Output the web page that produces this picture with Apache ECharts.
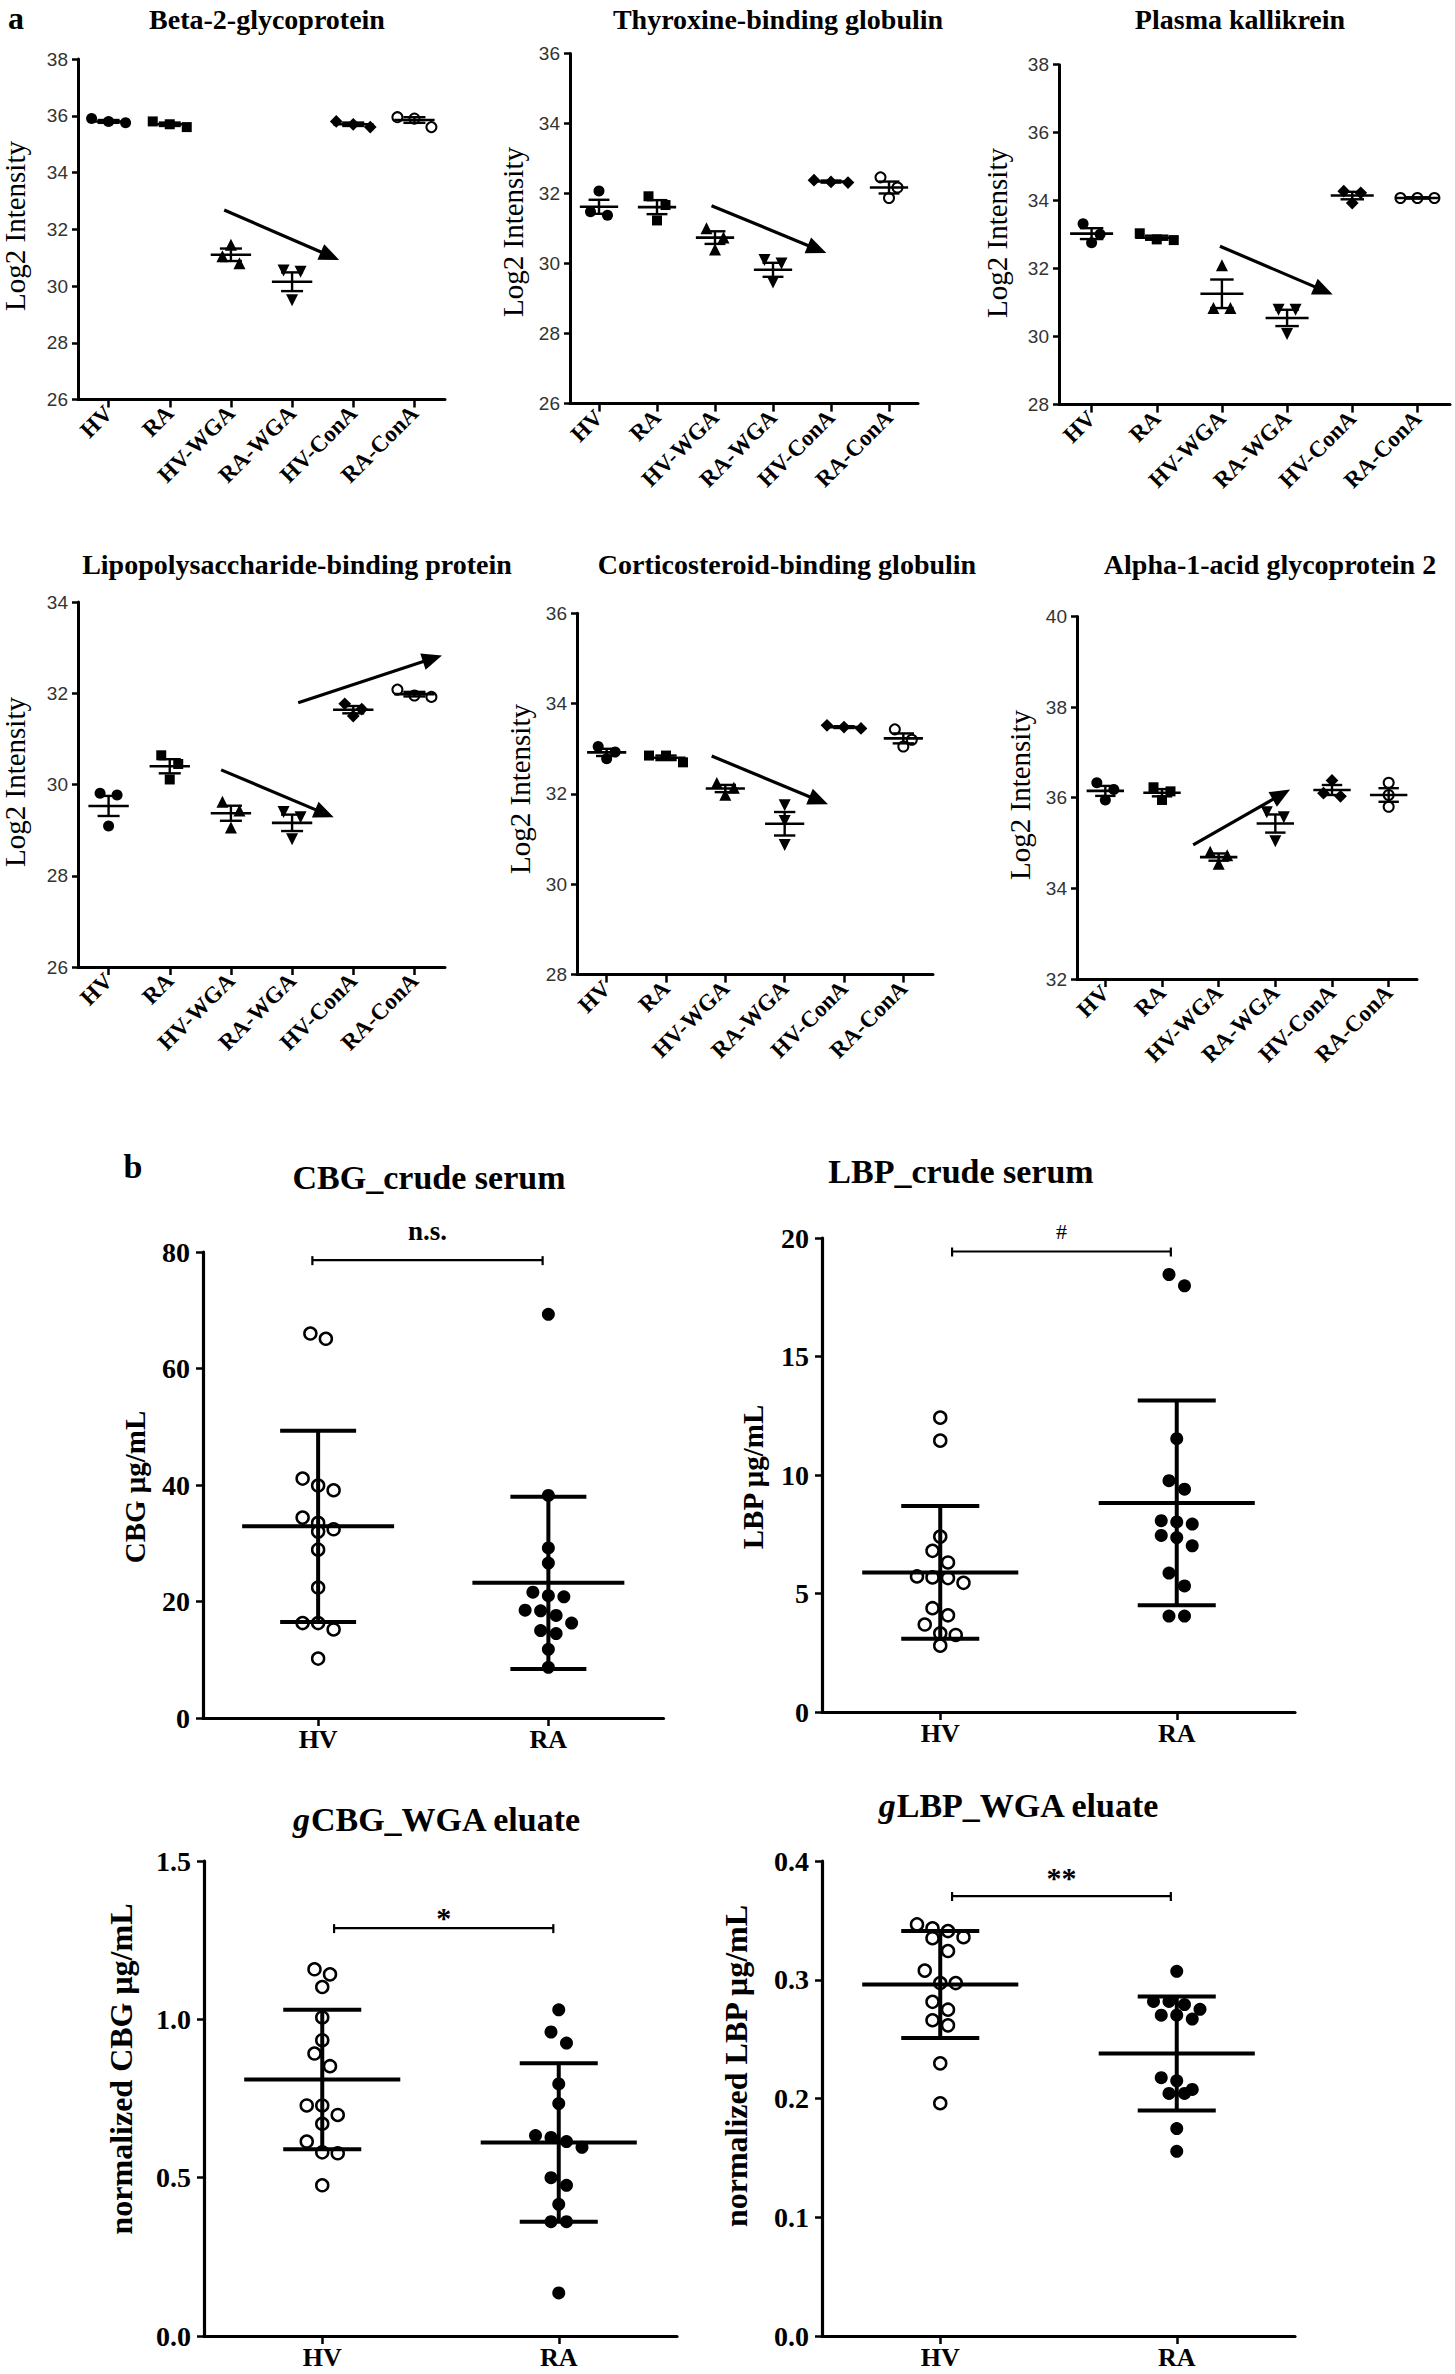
<!DOCTYPE html>
<html><head><meta charset="utf-8">
<script src="https://cdn.jsdelivr.net/npm/echarts@6/dist/echarts.min.js"></script>
<style>html,body{margin:0;padding:0;background:#fff}#c{width:1455px;height:2374px}</style>
</head><body><div id="c"></div>
<script>
// ---------------- DATA ----------------
const groupsA = ['HV', 'RA', 'HV-WGA', 'RA-WGA', 'HV-ConA', 'RA-ConA'];
const groupsB = ['HV', 'RA'];
const titlesA = ['Beta-2-glycoprotein', 'Thyroxine-binding globulin', 'Plasma kallikrein',
  'Lipopolysaccharide-binding protein', 'Corticosteroid-binding globulin', 'Alpha-1-acid glycoprotein 2'];
const yNameA = 'Log2 Intensity';

// y axis ticks: [min, max, step]
const beta2Y = [26, 38, 2];
const beta2Points = [[35.9, 35.75, 35.8], [35.8, 35.6, 35.7], [31.45, 31.05, 30.8], [30.55, 30.5, 29.5], [35.8, 35.6, 35.7], [35.95, 35.6, 35.9]];
const beta2Mean = [35.8, 35.7, 31.1, 30.15, 35.7, 35.85];
const beta2Sem = [0.05, 0.06, 0.22, 0.33, 0.06, 0.1];
const beta2Arrows = [[1.89, 32.68, 3.77, 30.92]];

const tbgY = [26, 36, 2];
const tbgPoints = [[32.07, 31.38, 31.48], [31.92, 31.23, 31.67], [31.01, 30.4, 30.74], [30.1, 30.0, 29.46], [32.38, 32.31, 32.33], [32.46, 31.87, 32.17]];
const tbgMean = [31.62, 31.61, 30.74, 29.82, 32.34, 32.17];
const tbgSem = [0.2, 0.2, 0.18, 0.2, 0.03, 0.17];
const tbgArrows = [[1.94, 31.65, 3.92, 30.3]];

const pkY = [28, 38, 2];
const pkPoints = [[33.32, 32.76, 33.01], [33.04, 32.86, 32.84], [32.1, 30.84, 30.84], [30.79, 30.79, 30.08], [34.28, 34.23, 33.93], [34.08, 34.08, 34.08]];
const pkMean = [33.03, 32.91, 31.26, 30.55, 34.15, 34.08];
const pkSem = [0.16, 0.06, 0.42, 0.24, 0.11, 0.02];
const pkArrows = [[1.97, 32.66, 3.7, 31.24]];

const lbpY = [26, 34, 2];
const lbpPoints = [[29.81, 29.77, 29.09], [30.64, 30.45, 30.11], [29.62, 29.43, 29.06], [29.4, 29.28, 28.8], [31.77, 31.65, 31.5], [32.08, 31.95, 31.92]];
const lbpMean = [29.53, 30.4, 29.37, 29.16, 31.64, 31.98];
const lbpSem = [0.22, 0.155, 0.165, 0.18, 0.08, 0.05];
const lbpArrows = [[1.84, 30.32, 3.68, 29.28], [3.1, 31.79, 5.45, 32.83]];

const cbgY = [28, 36, 2];
const cbgPoints = [[33.05, 32.93, 32.78], [32.85, 32.85, 32.7], [32.24, 32.14, 31.98], [31.75, 31.4, 30.87], [33.52, 33.48, 33.45], [33.43, 33.2, 33.05]];
const cbgMean = [32.92, 32.8, 32.12, 31.34, 33.48, 33.23];
const cbgSem = [0.08, 0.05, 0.08, 0.26, 0.02, 0.11];
const cbgArrows = [[1.77, 32.84, 3.73, 31.77]];

const agpY = [32, 40, 2];
const agpPoints = [[36.33, 36.18, 35.95], [36.23, 36.14, 35.95], [34.81, 34.73, 34.54], [35.68, 35.57, 35.04], [36.38, 36.1, 36.03], [36.33, 36.06, 35.8]];
const agpMean = [36.15, 36.11, 34.69, 35.43, 36.17, 36.06];
const agpSem = [0.11, 0.08, 0.08, 0.2, 0.11, 0.15];
const agpArrows = [[1.55, 34.96, 3.26, 36.18]];

// Panel b
const cbgCrudeY = [0, 80, 20];
const cbgCrudeHV = [65.1, 66.0, 39.9, 39.1, 41.1, 33.5, 34.4, 32.0, 32.4, 28.9, 22.4, 16.3, 16.3, 15.2, 10.2];
const cbgCrudeRA = [69.3, 38.2, 29.2, 26.6, 21.6, 20.8, 21.0, 18.4, 18.5, 16.3, 17.6, 15.0, 14.5, 11.8, 8.7];
const cbgCrudeMean = [32.9, 23.2];
const cbgCrudeSD = [16.4, 14.8];
const cbgCrudeSig = { text: 'n.s.', from: -0.025, to: 0.975, y: 78.6 };

const lbpCrudeY = [0, 20, 5];
const lbpCrudeHV = [12.42, 11.45, 7.4, 6.8, 6.31, 5.72, 5.65, 5.45, 5.68, 4.38, 4.08, 3.69, 3.32, 3.25, 2.8];
const lbpCrudeRA = [17.98, 18.46, 11.53, 9.4, 9.76, 8.02, 7.93, 8.07, 7.45, 7.36, 7.01, 5.86, 5.32, 4.05, 4.05];
const lbpCrudeMean = [5.89, 8.82];
const lbpCrudeSD = [2.8, 4.32];
const lbpCrudeSig = { text: '#', from: 0.05, to: 0.975, y: 19.43 };

const gcbgY = [0, 1.5, 0.5];
const gcbgHV = [1.142, 1.158, 1.102, 1.006, 0.934, 0.892, 0.852, 0.728, 0.728, 0.698, 0.670, 0.614, 0.580, 0.577, 0.476];
const gcbgRA = [1.03, 0.96, 0.925, 0.796, 0.734, 0.627, 0.633, 0.614, 0.596, 0.5, 0.476, 0.416, 0.361, 0.361, 0.136];
const gcbgMean = [0.81, 0.611];
const gcbgSD = [0.22, 0.25];
const gcbgSig = { text: '*', from: 0.05, to: 0.977, y: 1.288 };

const glbpY = [0, 0.4, 0.1];
const glbpHV = [0.3466, 0.341, 0.3433, 0.335, 0.3358, 0.3242, 0.3077, 0.2972, 0.2972, 0.2814, 0.2748, 0.2659, 0.2616, 0.2296, 0.196];
const glbpRA = [0.3071, 0.2817, 0.2791, 0.2817, 0.2702, 0.2702, 0.2751, 0.2669, 0.2175, 0.2149, 0.2076, 0.2043, 0.2043, 0.1747, 0.1555];
const glbpMean = [0.296, 0.238];
const glbpSD = [0.045, 0.048];
const glbpSig = { text: '**', from: 0.05, to: 0.975, y: 0.3705 };

const titlesB = ['CBG_crude serum', 'LBP_crude serum', 'CBG_WGA eluate', 'LBP_WGA eluate'];
const yNamesB = ['CBG μg/mL', 'LBP μg/mL', 'normalized CBG μg/mL', 'normalized LBP μg/mL'];

// ---------------- LAYOUT / STYLE ----------------
const SERIF = '"Liberation Serif","Times New Roman",serif';
const SANS = '"Liberation Sans",Arial,sans-serif';

const markA = [
  { symbol: 'circle', size: 11, fill: '#000', bw: 0 },
  { symbol: 'rect', size: 10, fill: '#000', bw: 0 },
  { symbol: 'triangle', size: 12, fill: '#000', bw: 0, rot: 0 },
  { symbol: 'triangle', size: 12, fill: '#000', bw: 0, rot: 180 },
  { symbol: 'rect', size: 9, fill: '#000', bw: 0, rot: 45 },
  { symbol: 'circle', size: 10, fill: '#fff', bw: 2 }
];
const markB = [
  { symbol: 'circle', size: 12, fill: '#fff', bw: 2.5 },
  { symbol: 'circle', size: 13, fill: '#000', bw: 0 }
];

const panelsA = [
  { pts: beta2Points, mean: beta2Mean, err: beta2Sem, y: beta2Y, arrows: beta2Arrows, box: [78, 59, 367, 340.5], tx: 267, ty: 19, nx: 15, ny: 226 },
  { pts: tbgPoints, mean: tbgMean, err: tbgSem, y: tbgY, arrows: tbgArrows, box: [570, 53.4, 348, 350.2], tx: 778, ty: 19, nx: 513, ny: 232 },
  { pts: pkPoints, mean: pkMean, err: pkSem, y: pkY, arrows: pkArrows, box: [1059, 64.7, 391, 339.9], tx: 1240, ty: 19, nx: 997, ny: 233 },
  { pts: lbpPoints, mean: lbpMean, err: lbpSem, y: lbpY, arrows: lbpArrows, box: [78, 602, 367, 365], tx: 297, ty: 564, nx: 15, ny: 782 },
  { pts: cbgPoints, mean: cbgMean, err: cbgSem, y: cbgY, arrows: cbgArrows, box: [577, 613.3, 356, 361.3], tx: 787, ty: 564, nx: 520, ny: 789 },
  { pts: agpPoints, mean: agpMean, err: agpSem, y: agpY, arrows: agpArrows, box: [1077, 616.4, 340, 362.6], tx: 1270, ty: 564, nx: 1020, ny: 795 }
];
const panelsB = [
  { pts: [cbgCrudeHV, cbgCrudeRA], mean: cbgCrudeMean, err: cbgCrudeSD, y: cbgCrudeY, sig: cbgCrudeSig, box: [203, 1252, 460.5, 466], tx: 429, ty: 1177, nx: 135, ny: 1487, nFont: 29, sigGap: 29, sigFont: 'bold 27px ' + SERIF, dec: 0, ital: false },
  { pts: [lbpCrudeHV, lbpCrudeRA], mean: lbpCrudeMean, err: lbpCrudeSD, y: lbpCrudeY, sig: lbpCrudeSig, box: [822, 1238, 473, 474], tx: 961, ty: 1171, nx: 753, ny: 1477, nFont: 29, sigGap: 20, sigFont: '22px ' + SERIF, dec: 0, ital: false },
  { pts: [gcbgHV, gcbgRA], mean: gcbgMean, err: gcbgSD, y: gcbgY, sig: gcbgSig, box: [204, 1861, 473, 475], tx: 437, ty: 1819, nx: 121, ny: 2069, nFont: 32, sigGap: 11, sigFont: 'bold 30px ' + SERIF, dec: 1, ital: true },
  { pts: [glbpHV, glbpRA], mean: glbpMean, err: glbpSD, y: glbpY, sig: glbpSig, box: [822, 1861, 473, 475], tx: 1019, ty: 1805, nx: 736, ny: 2066, nFont: 32, sigGap: 19, sigFont: 'bold 30px ' + SERIF, dec: 1, ital: true }
];

// ---------------- BUILD ----------------
const opt = { backgroundColor: '#fff', animation: false, grid: [], xAxis: [], yAxis: [], series: [], graphic: [] };

function swarm(values, pxPerUnit, thresh, step) {
  const idx = values.map((v, i) => i).sort((a, b) => values[b] - values[a]);
  const off = new Array(values.length).fill(0);
  let row = [];
  const flush = () => { const k = row.length; row.forEach((i, j) => { off[i] = (j - (k - 1) / 2) * step; }); row = []; };
  for (const i of idx) {
    if (row.length && (values[row[0]] - values[i]) * pxPerUnit >= thresh) flush();
    row.push(i);
  }
  flush();
  return off;
}

function addGrid(box, cats, yr, st) {
  const gi = opt.grid.length;
  opt.grid.push({ left: box[0], top: box[1], width: box[2], height: box[3], containLabel: false, outerBoundsMode: 'none' });
  opt.xAxis.push({
    type: 'category', gridIndex: gi, data: cats, boundaryGap: true,
    axisLine: { show: true, onZero: false, lineStyle: { color: '#000', width: st.axisW } },
    axisTick: { show: true, alignWithLabel: true, length: st.xTickLen, lineStyle: { color: '#000', width: st.tickW } },
    axisLabel: { show: true, interval: 0, rotate: st.rotate, margin: st.xMargin, color: '#000', fontFamily: SERIF, fontWeight: 'bold', fontSize: st.xFont },
    splitLine: { show: false }
  });
  opt.xAxis.push({ type: 'value', gridIndex: gi, min: -0.5, max: cats.length - 0.5, show: false, splitLine: { show: false } });
  opt.yAxis.push({
    type: 'value', gridIndex: gi, min: yr[0], max: yr[1], interval: yr[2],
    axisLine: { show: true, onZero: false, lineStyle: { color: '#000', width: st.axisW } },
    axisTick: { show: true, length: st.yTickLen, lineStyle: { color: '#000', width: st.tickW } },
    axisLabel: { show: true, margin: st.yMargin, color: st.yColor, fontFamily: st.yFamily, fontWeight: st.yWeight, fontSize: st.yFont, formatter: st.yFmt },
    splitLine: { show: false }
  });
  return gi;
}

function meanErrSeries(gi, means, errs, o) {
  return {
    type: 'custom', xAxisIndex: 2 * gi + 1, yAxisIndex: gi, z: 5, silent: true,
    data: means.map((m, g) => [g, m, errs[g]]),
    renderItem: (params, api) => {
      const c = api.value(0), m = api.value(1), e = api.value(2);
      const L = (p, q, w) => ({ type: 'line', shape: { x1: p[0], y1: p[1], x2: q[0], y2: q[1] }, style: { stroke: '#000', lineWidth: w } });
      return {
        type: 'group', children: [
          L(api.coord([c - o.mh, m]), api.coord([c + o.mh, m]), o.lw),
          L(api.coord([c, m + e]), api.coord([c, m - e]), o.vw),
          L(api.coord([c - o.ch, m + e]), api.coord([c + o.ch, m + e]), o.vw),
          L(api.coord([c - o.ch, m - e]), api.coord([c + o.ch, m - e]), o.vw)
        ]
      };
    }
  };
}

function arrowSeries(gi, arrows) {
  return {
    type: 'custom', xAxisIndex: 2 * gi + 1, yAxisIndex: gi, z: 6, silent: true,
    data: arrows,
    renderItem: (params, api) => {
      const p0 = api.coord([api.value(0), api.value(1)]);
      const p1 = api.coord([api.value(2), api.value(3)]);
      const dx = p1[0] - p0[0], dy = p1[1] - p0[1];
      const len = Math.sqrt(dx * dx + dy * dy), ux = dx / len, uy = dy / len;
      const H = 20, W = 8.5;
      const bx = p1[0] - ux * H, by = p1[1] - uy * H;
      return {
        type: 'group', children: [
          { type: 'line', shape: { x1: p0[0], y1: p0[1], x2: bx + ux * 2, y2: by + uy * 2 }, style: { stroke: '#000', lineWidth: 3.2 } },
          { type: 'polygon', shape: { points: [[p1[0], p1[1]], [bx - uy * W, by + ux * W], [bx + uy * W, by - ux * W]] }, style: { fill: '#000' } }
        ]
      };
    }
  };
}

function sigSeries(gi, sig, gap, font) {
  return {
    type: 'custom', xAxisIndex: 2 * gi + 1, yAxisIndex: gi, z: 6, silent: true,
    data: [[sig.from, sig.to, sig.y]],
    renderItem: (params, api) => {
      const a = api.coord([api.value(0), api.value(2)]);
      const b = api.coord([api.value(1), api.value(2)]);
      const st = () => ({ stroke: '#000', lineWidth: 2.2 });
      return {
        type: 'group', children: [
          { type: 'line', shape: { x1: a[0], y1: a[1], x2: b[0], y2: b[1] }, style: st() },
          { type: 'line', shape: { x1: a[0], y1: a[1] - 4, x2: a[0], y2: a[1] + 5 }, style: st() },
          { type: 'line', shape: { x1: b[0], y1: b[1] - 4, x2: b[0], y2: b[1] + 5 }, style: st() },
          { type: 'text', x: (a[0] + b[0]) / 2, y: a[1] - gap, style: { text: sig.text, font: font, fill: '#000', align: 'center', verticalAlign: 'middle', textAlign: 'center', textVerticalAlign: 'middle' } }
        ]
      };
    }
  };
}

function gText(x, y, text, font, rot) {
  return {
    type: 'text', x: x, y: y, rotation: rot || 0, silent: true,
    style: { text: text, font: font, fill: '#000', align: 'center', verticalAlign: 'middle', textAlign: 'center', textVerticalAlign: 'middle' }
  };
}

// Panel a
const styleA = {
  axisW: 3, tickW: 2.5, xTickLen: 8, yTickLen: 6, rotate: 45, xMargin: 10, xFont: 23,
  yMargin: 10, yColor: '#333', yFamily: SANS, yWeight: 'normal', yFont: 19, yFmt: v => String(v)
};
panelsA.forEach((p, k) => {
  const gi = addGrid(p.box, groupsA, p.y, styleA);
  const ppu = p.box[3] / (p.y[1] - p.y[0]);
  const band = p.box[2] / groupsA.length;
  p.pts.forEach((vals, g) => {
    const off = swarm(vals, ppu, 11, 17);
    const mk = markA[g];
    opt.series.push({
      type: 'scatter', xAxisIndex: 2 * gi + 1, yAxisIndex: gi, silent: true, z: 3,
      symbol: mk.symbol, symbolSize: mk.size, symbolRotate: mk.rot || 0,
      itemStyle: { color: mk.fill, borderColor: '#000', borderWidth: mk.bw, opacity: 1 },
      data: vals.map((v, i) => [g + off[i] / band, v])
    });
  });
  opt.series.push(meanErrSeries(gi, p.mean, p.err, { mh: 0.33, ch: 0.18, lw: 2.6, vw: 2.4 }));
  opt.series.push(arrowSeries(gi, p.arrows));
  opt.graphic.push(gText(p.tx, p.ty, titlesA[k], 'bold 28px ' + SERIF));
  opt.graphic.push(gText(p.nx, p.ny, yNameA, '29px ' + SERIF, Math.PI / 2));
});

// Panel b
panelsB.forEach((p, k) => {
  const st = {
    axisW: 3.2, tickW: 2.5, xTickLen: 8, yTickLen: 7, rotate: 0, xMargin: 8, xFont: 26,
    yMargin: 13, yColor: '#000', yFamily: SERIF, yWeight: 'bold', yFont: 28,
    yFmt: v => Number(v).toFixed(p.dec)
  };
  const gi = addGrid(p.box, groupsB, p.y, st);
  const ppu = p.box[3] / (p.y[1] - p.y[0]);
  const band = p.box[2] / groupsB.length;
  p.pts.forEach((vals, g) => {
    const off = swarm(vals, ppu, 13, 15.5);
    const mk = markB[g];
    opt.series.push({
      type: 'scatter', xAxisIndex: 2 * gi + 1, yAxisIndex: gi, silent: true, z: 3,
      symbol: mk.symbol, symbolSize: mk.size,
      itemStyle: { color: mk.fill, borderColor: '#000', borderWidth: mk.bw, opacity: 1 },
      data: vals.map((v, i) => [g + off[i] / band, v])
    });
  });
  opt.series.push(meanErrSeries(gi, p.mean, p.err, { mh: 0.33, ch: 0.165, lw: 4, vw: 4 }));
  opt.series.push(sigSeries(gi, p.sig, p.sigGap, p.sigFont));
  if (p.ital) {
    opt.graphic.push({
      type: 'text', x: p.tx, y: p.ty, silent: true,
      style: {
        text: '{i|g}{n|' + titlesB[k] + '}', fill: '#000', align: 'center', verticalAlign: 'middle', textAlign: 'center', textVerticalAlign: 'middle',
        rich: {
          i: { fontFamily: SERIF, fontSize: 34, fontWeight: 'bold', fontStyle: 'italic', fill: '#000', color: '#000' },
          n: { fontFamily: SERIF, fontSize: 34, fontWeight: 'bold', fill: '#000', color: '#000' }
        }
      }
    });
  } else {
    opt.graphic.push(gText(p.tx, p.ty, titlesB[k], 'bold 34px ' + SERIF));
  }
  opt.graphic.push(gText(p.nx, p.ny, yNamesB[k], 'bold ' + p.nFont + 'px ' + SERIF, Math.PI / 2));
});

opt.graphic.push(gText(16, 18, 'a', 'bold 32px ' + SERIF));
opt.graphic.push(gText(133, 1166, 'b', 'bold 34px ' + SERIF));

const chart = echarts.init(document.getElementById('c'), null, { renderer: 'svg', width: 1455, height: 2374 });
chart.setOption(opt);
</script>
</body></html>
